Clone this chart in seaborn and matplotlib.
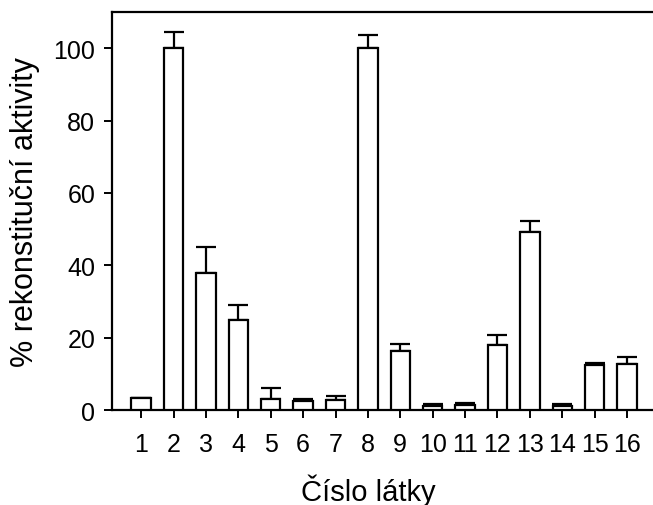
import matplotlib
matplotlib.use('Agg')
import matplotlib.pyplot as plt
import numpy as np
import pandas as pd
import seaborn as sns

# Data
compounds = [str(i) for i in range(1, 17)]
activity = [3.2, 100, 38, 25, 3, 2.5, 2.8, 100, 16.4, 1.2, 1.5, 18, 49.1, 1.2, 12.5, 12.6]
error_up = [0, 4.5, 7, 4, 3, 0.5, 1, 3.6, 1.8, 0.4, 0.5, 2.6, 3.2, 0.4, 0.6, 2.1]

sns.set_style('white')
plt.rcParams['font.family'] = ['Liberation Sans', 'DejaVu Sans']
plt.rcParams['text.color'] = 'black'
plt.rcParams['axes.labelcolor'] = 'black'

df = pd.DataFrame({'latka': compounds, 'aktivita': activity})

fig = plt.figure(figsize=(6.53, 5.06), dpi=100)
ax = fig.add_axes([0.1715, 0.1877, 0.8285, 0.7866])

sns.barplot(data=df, x='latka', y='aktivita', color='white', edgecolor='black',
            linewidth=1.6, width=0.6, errorbar=None, ax=ax, zorder=3)
for p in ax.patches:
    p.set_facecolor('white')

x = np.arange(len(compounds))
ax.errorbar(x, activity, yerr=[np.zeros(len(error_up)), error_up], fmt='none',
            ecolor='black', elinewidth=1.6, capsize=7.5, capthick=1.6, zorder=2)

ax.set_xlim(-0.9, 15.8)
ax.set_ylim(0, 110)
ax.set_yticks([0, 20, 40, 60, 80, 100])

for side in ['left', 'bottom', 'top']:
    ax.spines[side].set_visible(True)
    ax.spines[side].set_color('black')
    ax.spines[side].set_linewidth(1.6)
ax.spines['right'].set_visible(False)

ax.tick_params(axis='both', which='major', direction='out', length=6, width=1.4,
               colors='black', labelsize=18, bottom=True, left=True)
ax.tick_params(axis='x', pad=10)
ax.tick_params(axis='y', pad=6)

ax.set_xlabel('Číslo látky', fontsize=21, labelpad=13)
ax.xaxis.set_label_coords(0.473, -0.16)
ax.set_ylabel('% rekonstituční aktivity', fontsize=22, labelpad=10)

fig.savefig('out.png', dpi=100)
